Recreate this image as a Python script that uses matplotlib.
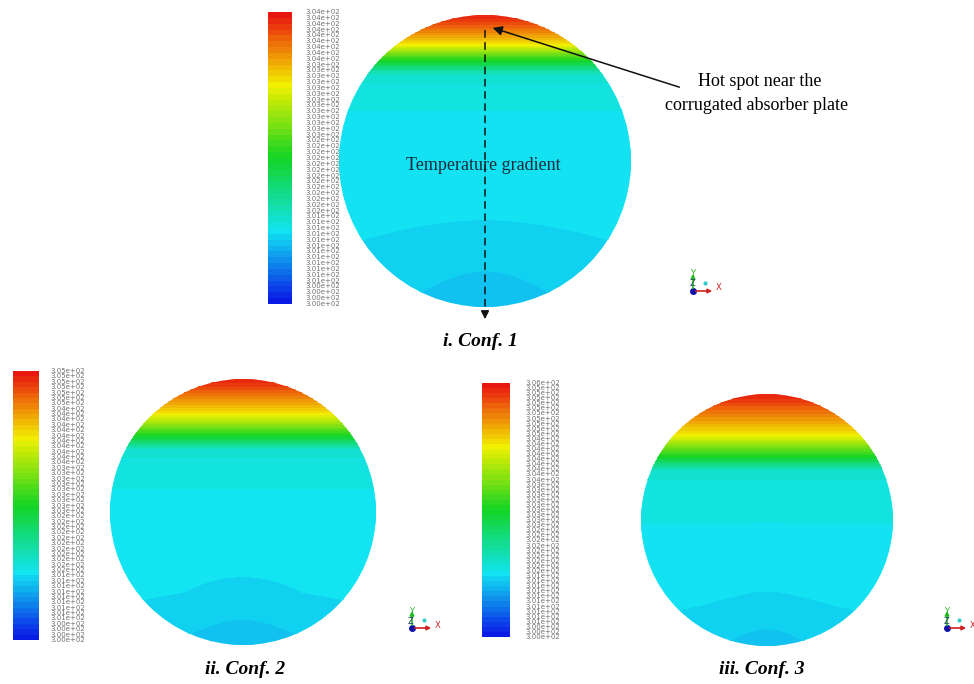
import numpy as np
import matplotlib.pyplot as plt
from matplotlib.colors import LinearSegmentedColormap, Normalize
from matplotlib.patches import Circle

# ---- data ----
CONF_NAMES = ["i. Conf. 1", "ii. Conf. 2", "iii. Conf. 3"]
T_MIN = [300.25, 300.2, 300.2]
T_MAX = [304.2, 305.2, 305.6]
N_LEVELS = 50

# vertical profile through each section: s = depth from top / diameter,
# frac = position on the colour scale (0 -> T_MIN, 1 -> T_MAX)
PROF_S1 = [0.0, 0.04, 0.07, 0.1, 0.125, 0.15, 0.175, 0.2, 0.25, 0.4, 0.7, 1.0]
PROF_F1 = [0.98, 0.9, 0.83, 0.75, 0.63, 0.52, 0.4, 0.3, 0.265, 0.255, 0.245, 0.225]
PROF_S2 = [0.0, 0.05, 0.09, 0.13, 0.17, 0.205, 0.235, 0.26, 0.32, 0.5, 0.8, 1.0]
PROF_F2 = [0.98, 0.9, 0.83, 0.75, 0.63, 0.52, 0.4, 0.3, 0.265, 0.255, 0.245, 0.225]
PROF_S3 = [0.0, 0.06, 0.11, 0.16, 0.2, 0.24, 0.27, 0.3, 0.36, 0.55, 0.8, 1.0]
PROF_F3 = [0.98, 0.9, 0.83, 0.75, 0.63, 0.52, 0.4, 0.3, 0.268, 0.258, 0.248, 0.23]
# slightly cooler pocket at the bottom of the section (distance from bottom point / R)
DIP_R = [0.0, 0.3, 0.6, 1.0]
DIP_F = [0.02, 0.012, 0.005, 0.0]

# ---- layout (pixels) ----
PANELS = [
    dict(c=(485, 161), r=146, cb=(268, 292, 12, 304), lx=305, triad=(693, 291), title=(480, 342)),
    dict(c=(243, 512), r=133, cb=(13, 39, 371, 640), lx=50, triad=(412, 628), title=(245, 670)),
    dict(c=(767, 520), r=126, cb=(482, 510, 383, 637), lx=525, triad=(947, 628), title=(762, 670)),
]
PROFILES = [(PROF_S1, PROF_F1), (PROF_S2, PROF_F2), (PROF_S3, PROF_F3)]

cmap = LinearSegmentedColormap.from_list(
    "fluent", ["#0a14e6", "#12e4f2", "#14d424", "#f2f000", "#e81010"])

fig = plt.figure(figsize=(9.74, 6.84), dpi=100)
ax = fig.add_axes([0, 0, 1, 1])
ax.set_xlim(0, 974); ax.set_ylim(684, 0); ax.axis("off")


def triad(x, y):
    ax.annotate("", xy=(x, y - 20), xytext=(x, y),
                arrowprops=dict(arrowstyle="-|>", color="#22bb22", lw=1.2, mutation_scale=6))
    ax.annotate("", xy=(x + 22, y), xytext=(x, y),
                arrowprops=dict(arrowstyle="-|>", color="#cc2222", lw=1.2, mutation_scale=6))
    ax.plot(x, y, "o", color="#1111aa", ms=4)
    ax.plot(x + 12, y - 8, "o", color="#33cccc", ms=2)
    ax.text(x, y - 17, "Y", color="#22bb22", fontsize=6, ha="center", va="center")
    ax.text(x + 23, y - 3, "X", color="#cc2222", fontsize=6, ha="left", va="center")
    ax.text(x - 1, y - 7, "Z", color="#224466", fontsize=6, ha="center", va="center")


for p, (ps, pf), tmin, tmax, name in zip(PANELS, PROFILES, T_MIN, T_MAX, CONF_NAMES):
    cx, cy = p["c"]; R = p["r"]
    norm = Normalize(tmin, tmax)
    levels = np.linspace(tmin, tmax, N_LEVELS + 1)

    xs = np.linspace(cx - R, cx + R, 300)
    ys = np.linspace(cy - R, cy + R, 300)
    X, Y = np.meshgrid(xs, ys)
    s = (Y - (cy - R)) / (2 * R)
    f = np.interp(s, ps, pf)
    rb = np.hypot(X - cx, Y - (cy + R)) / R
    f = f - np.interp(rb, DIP_R, DIP_F)
    T = tmin + f * (tmax - tmin)
    cs = ax.contourf(X, Y, T, levels=levels, cmap=cmap, norm=norm)
    cs.set_edgecolor("face")
    cs.set_linewidth(0.6)
    cs.set_clip_path(Circle((cx, cy), R, transform=ax.transData))

    # colour bar
    x0, x1, ytop, ybot = p["cb"]
    yedges = np.linspace(ybot, ytop, N_LEVELS + 1)
    mids = 0.5 * (levels[:-1] + levels[1:])
    ax.pcolormesh([x0, x1], yedges, mids[:, None], cmap=cmap, norm=norm)
    for v, yy in zip(levels, yedges):
        ax.text(p["lx"], yy, f"{v:.2e}", fontsize=5.0, color="#707070",
                ha="left", va="center", family="DejaVu Sans")

    triad(*p["triad"])
    ax.text(*p["title"], name, fontsize=14, fontweight="bold", fontstyle="italic",
            family="Liberation Serif", ha="center", va="center")

# annotations on Conf. 1
ax.plot([485, 485], [30, 312], ls=(0, (5, 3)), color="#111111", lw=1.1)
ax.annotate("", xy=(485, 322), xytext=(485, 310),
            arrowprops=dict(arrowstyle="-|>", color="#111111", lw=1.1, mutation_scale=12))
ax.annotate("", xy=(490, 27), xytext=(682, 88),
            arrowprops=dict(arrowstyle="-|>", color="#111111", lw=1.1, mutation_scale=14))
ax.text(760, 82, "Hot spot near the", fontsize=13, family="Liberation Serif",
        ha="center", va="center")
ax.text(757, 105, "corrugated absorber plate", fontsize=13, family="Liberation Serif",
        ha="center", va="center")
ax.text(483, 166, "Temperature gradient", fontsize=13, family="Liberation Serif",
        color="#1a2a38", ha="center", va="center")

fig.savefig("out.png", dpi=100)
